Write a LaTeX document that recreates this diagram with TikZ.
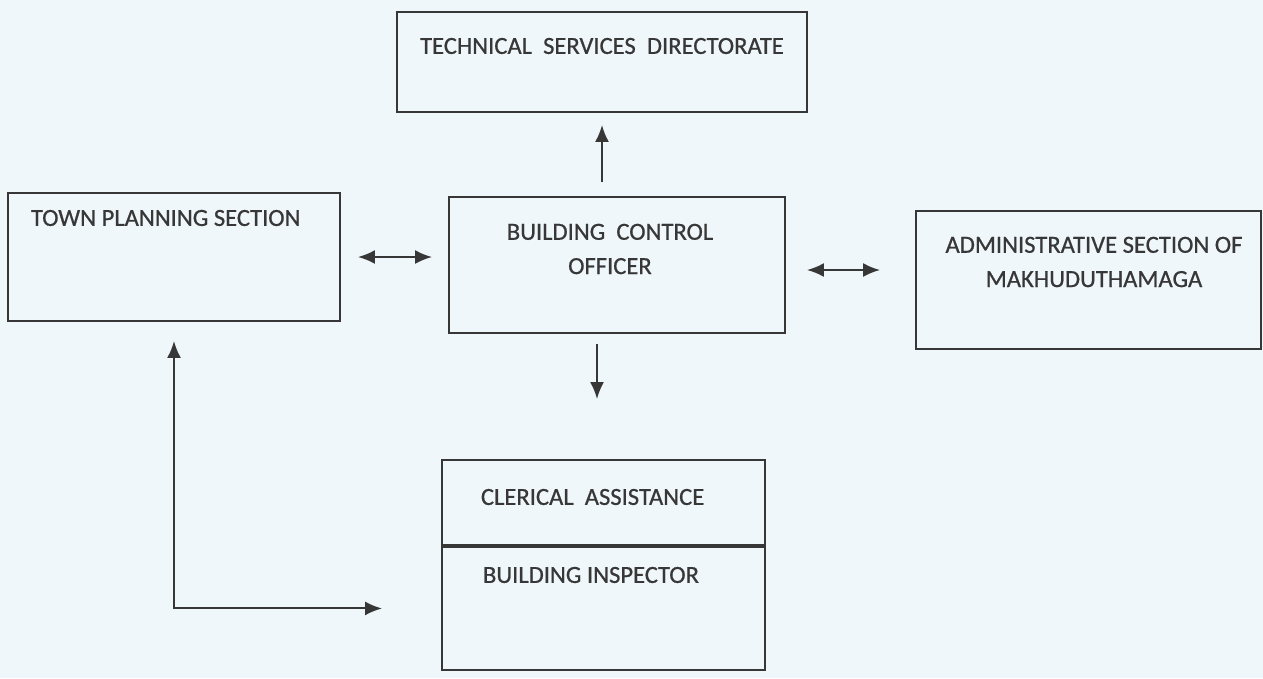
\documentclass[tikz,border=0pt]{standalone}
\usepackage{fontspec}
\setmainfont{Carlito}[FakeBold=0.7]
\usepackage{xcolor}
\usetikzlibrary{arrows.meta}
\definecolor{scanbg}{RGB}{239,247,251}
\definecolor{ink}{RGB}{55,55,55}

\begin{document}
\begin{tikzpicture}[line width=1.1pt, draw=ink,
		box/.style={draw=ink, rectangle, inner sep=0pt},
		lbl/.style={text=ink, font=\fontsize{14}{19.5}\selectfont, inner sep=0pt, align=center},
		arr/.style={ink, -{Latex[length=3.4mm, width=2.8mm]}},
		darr/.style={ink, {Latex[length=3.4mm, width=2.8mm]}-{Latex[length=3.4mm, width=2.8mm]}}]
		\fill[scanbg] (0,0) rectangle (25.26,-13.56);
		\useasboundingbox (0,0) rectangle (25.26,-13.56);
		
		\node[box, minimum width=8.2cm, minimum height=2cm] (tsd) at (12.04,-1.24) {};
		\node[box, minimum width=6.64cm, minimum height=2.56cm] (tps) at (3.48,-5.14) {};
		\node[box, minimum width=6.72cm, minimum height=2.72cm] (bco) at (12.34,-5.3) {};
		\node[box, minimum width=6.9cm, minimum height=2.76cm] (adm) at (21.77,-5.6) {};
		\node[box, minimum width=6.46cm, minimum height=1.7cm] (clerk) at (12.07,-10.05) {};
		\node[box, minimum width=6.46cm, minimum height=2.46cm, anchor=north] (insp) at (clerk.south) {};
		
		\node[lbl] (tsd text) at (12.04,-0.92) {TECHNICAL~ SERVICES~ DIRECTORATE};
		\node[lbl, anchor=west] (tps text) at (0.6,-4.36) {TOWN PLANNING SECTION};
		\node[lbl] (bco text) at (12.2,-4.98) {BUILDING~ CONTROL\\OFFICER};
		\node[lbl] (adm text) at (21.88,-5.24) {ADMINISTRATIVE SECTION OF\\MAKHUDUTHAMAGA};
		\node[lbl, anchor=west] (clerk text) at (9.6,-9.94) {CLERICAL~ ASSISTANCE};
		\node[lbl, anchor=west] (insp text) at (9.64,-11.5) {BUILDING INSPECTOR};
		
		\draw[arr, shorten <=0.28cm, shorten >=0.24cm] (bco.north -| tsd.south) -- (tsd.south);
		\draw[darr, shorten <=0.34cm, shorten >=0.32cm] (tps.east) -- (tps.east -| bco.west);
		\draw[darr, shorten <=0.42cm, shorten >=0.7cm] ([yshift=-0.1cm]bco.east) -- ([yshift=-0.1cm]bco.east -| adm.west);
		\draw[arr, shorten <=0.2cm, shorten >=1.2cm] ([xshift=-0.4cm]bco.south) -- ([xshift=-0.4cm]bco.south |- clerk.north);
		\draw[darr, shorten <=0.38cm, shorten >=1.18cm] (tps.south) |- (insp.west);
	\end{tikzpicture}
\end{document}
